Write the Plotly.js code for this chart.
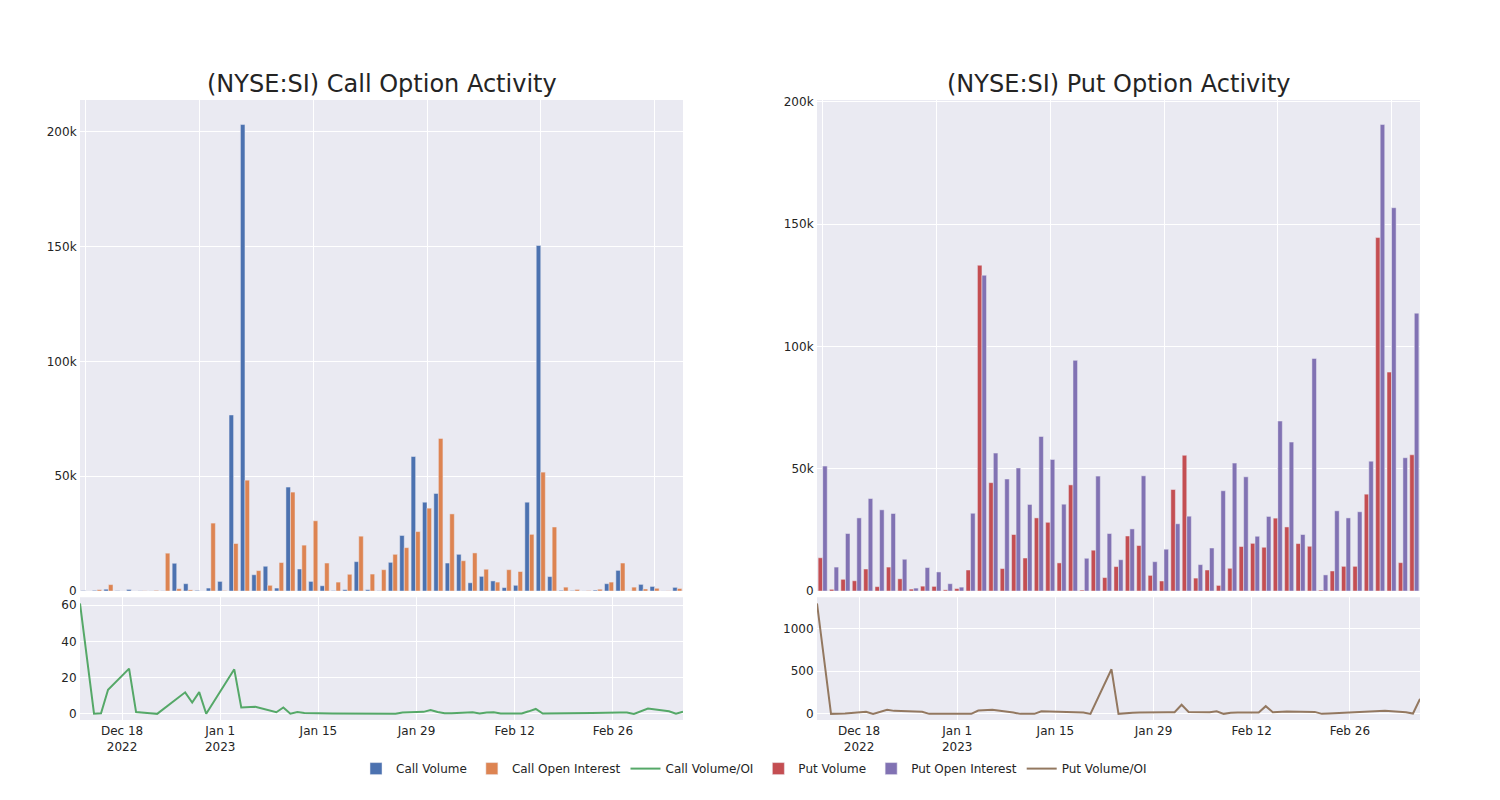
<!DOCTYPE html>
<html>
<head>
<meta charset="utf-8">
<script src="https://cdn.plot.ly/plotly-3.0.1.min.js"></script>
<style>html,body{margin:0;padding:0;background:#fff;}#chart{width:1500px;height:800px;}</style>
</head>
<body>
<div id="chart"></div>
<script>
const dates = ["2022-12-12","2022-12-14","2022-12-15","2022-12-16","2022-12-19","2022-12-20","2022-12-22","2022-12-23","2022-12-27","2022-12-28","2022-12-29","2022-12-30",
"2023-01-03","2023-01-04","2023-01-06","2023-01-09","2023-01-10","2023-01-11","2023-01-12","2023-01-13","2023-01-17","2023-01-19","2023-01-20","2023-01-23","2023-01-24","2023-01-25","2023-01-26","2023-01-27","2023-01-30","2023-01-31",
"2023-02-01","2023-02-02","2023-02-03","2023-02-06","2023-02-07","2023-02-08","2023-02-09","2023-02-10","2023-02-13","2023-02-14","2023-02-15","2023-02-16","2023-02-17","2023-02-21","2023-02-22","2023-02-23","2023-02-27","2023-02-28",
"2023-03-01","2023-03-03","2023-03-06","2023-03-07","2023-03-08"];

const callVolume = [200,300,800,150,700,100,50,100,12100,3200,300,1300,
4200,76700,203200,7100,10800,1300,45300,9600,4200,2300,200,600,12800,600,100,12500,24200,58600,
38700,42500,12200,16000,3600,6400,4400,1500,2500,38700,150500,6300,300,200,50,400,3200,9000,
0,2900,2000,50,1600];

const callOpenInterest = [3,600,2800,10,30,100,300,16500,1000,500,25,29600,
170,20700,48300,8900,2500,12400,43100,20000,30600,12200,3900,7300,23900,7400,9300,16000,18900,25900,
36100,66500,33600,13200,16600,9500,3900,9300,8500,24700,51800,27900,1700,700,200,800,3900,12200,
1700,900,1200,100,1100];

const callVolumeOI = [61,0.1,0.3,13.3,25,1,0.3,0,11.9,6.3,12,0.05,
24.6,3.5,3.9,0.9,3.5,0.1,1.0,0.45,0.15,0.2,0.05,0.1,0.3,0.1,0.02,0.8,1.1,2.1,
1.0,0.4,0.4,0.9,0.2,0.7,0.9,0.2,0.2,1.4,2.7,0.2,0.2,0.25,0.2,0.5,0.8,0.75,
0,2.9,1.4,0.1,1.2];

const putVolume = [13600,700,4800,4200,9000,1800,9800,5000,800,2000,1900,500,
1000,8600,133200,44300,9200,23100,13500,29900,28100,11500,43400,400,16700,5500,10000,22500,18600,6400,
4100,41500,55500,5300,8600,2300,9300,18200,19500,17900,29800,26200,19400,18300,400,8200,10100,10100,
39600,144500,89500,11600,55700];

const putOpenInterest = [51100,9800,23500,29900,37800,33200,31700,13000,1200,9600,7800,3000,
1600,31800,129100,56400,45800,50300,35400,63200,53800,35500,94300,13400,47000,23500,12800,25400,47100,12000,
17100,27500,30600,10800,17600,41000,52300,46700,22400,30500,69500,60900,23100,95100,6600,32800,29900,32400,
53100,190700,156700,54500,113600];

const putVolumeOI = [1294,0,2,4,24,0,47,35,24,0,0,0,
0,39,47,15,0,0,0,31,22,15,0,522,0,8,12,15,24,20,
20,106,22,18,31,0,12,16,15,90,20,27,27,23,0,5,22,28,
30,35,20,4,176];

const C = {
  callVol: 'rgb(76,114,176)', callOI: 'rgb(221,132,82)', callRatio: 'rgb(85,168,104)',
  putVol: 'rgb(196,78,82)', putOI: 'rgb(129,114,179)', putRatio: 'rgb(147,120,96)'
};
const barLine = {color: 'rgb(234,234,242)', width: 0.5};

const traces = [
  {type:'bar', name:'Call Volume', x:dates, y:callVolume, marker:{color:C.callVol, line:barLine}, xaxis:'x', yaxis:'y'},
  {type:'bar', name:'Call Open Interest', x:dates, y:callOpenInterest, marker:{color:C.callOI, line:barLine}, xaxis:'x', yaxis:'y'},
  {type:'scatter', mode:'lines', name:'Call Volume/OI', x:dates, y:callVolumeOI, line:{color:C.callRatio, width:2}, xaxis:'x3', yaxis:'y3'},
  {type:'bar', name:'Put Volume', x:dates, y:putVolume, marker:{color:C.putVol, line:barLine}, xaxis:'x2', yaxis:'y2'},
  {type:'bar', name:'Put Open Interest', x:dates, y:putOpenInterest, marker:{color:C.putOI, line:barLine}, xaxis:'x2', yaxis:'y2'},
  {type:'scatter', mode:'lines', name:'Put Volume/OI', x:dates, y:putVolumeOI, line:{color:C.putRatio, width:2}, xaxis:'x4', yaxis:'y4'}
];

const ax = {gridcolor:'white', linecolor:'white', zerolinecolor:'white', showgrid:true, ticks:'', tickfont:{size:12, color:'rgb(36,36,36)'}};
const catAx = Object.assign({}, ax, {type:'category', showticklabels:false, tickmode:'linear', tick0:0, dtick:10});
const dateAx = Object.assign({}, ax, {type:'date'});

const layout = {
  width:1500, height:800,
  paper_bgcolor:'white', plot_bgcolor:'rgb(234,234,242)',
  font:{family:'"DejaVu Sans", Verdana, sans-serif', color:'rgb(36,36,36)'},
  margin:{l:80, r:80, t:100, b:80},
  barmode:'group',
  showlegend:true,
  legend:{orientation:'h', x:0.503, xanchor:'center', y:-0.055, yanchor:'top', font:{size:12}},
  xaxis: Object.assign({}, catAx, {domain:[0,0.45], anchor:'y'}),
  yaxis: Object.assign({}, ax, {domain:[0.208,1], anchor:'x'}),
  xaxis2: Object.assign({}, catAx, {domain:[0.55,1], anchor:'y2'}),
  yaxis2: Object.assign({}, ax, {domain:[0.208,1], anchor:'x2'}),
  xaxis3: Object.assign({}, dateAx, {domain:[0,0.45], anchor:'y3'}),
  yaxis3: Object.assign({}, ax, {domain:[0,0.198], anchor:'x3'}),
  xaxis4: Object.assign({}, dateAx, {domain:[0.55,1], anchor:'y4'}),
  yaxis4: Object.assign({}, ax, {domain:[0,0.198], anchor:'x4'}),
  annotations:[
    {text:'(NYSE:SI) Call Option Activity', x:0.225, y:1, xref:'paper', yref:'paper', xanchor:'center', yanchor:'bottom', showarrow:false, font:{size:24}},
    {text:'(NYSE:SI) Put Option Activity', x:0.775, y:1, xref:'paper', yref:'paper', xanchor:'center', yanchor:'bottom', showarrow:false, font:{size:24}}
  ]
};

Plotly.newPlot('chart', traces, layout, {displayModeBar:false});
</script>
</body>
</html>
